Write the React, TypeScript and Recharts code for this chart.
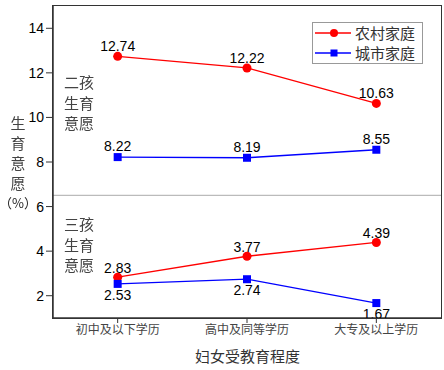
import React from 'react';
import { ComposedChart, Line, XAxis, YAxis, ReferenceLine, LabelList } from 'recharts';

const categories = ['初中及以下学历', '高中及同等学历', '大专及以上学历'];
const rural2 = [12.74, 12.22, 10.63];
const urban2 = [8.22, 8.19, 8.55];
const rural3 = [2.83, 3.77, 4.39];
const urban3 = [2.53, 2.74, 1.67];
const yTicks = [2, 4, 6, 8, 10, 12, 14];

const data = categories.map((c, i) => ({
  cat: c,
  rural2: rural2[i],
  urban2: urban2[i],
  rural3: rural3[i],
  urban3: urban3[i],
}));

const RED = '#ff0000';
const BLUE = '#0000ff';
const CJK = '"Noto Sans CJK SC", sans-serif';
const NUM = '"Liberation Sans", Arial, sans-serif';

const Square = (props: any) => {
  const { cx, cy } = props;
  if (cx == null || cy == null) return null;
  return <rect x={cx - 4} y={cy - 4} width={8} height={8} fill={BLUE} />;
};
const Circle = (props: any) => {
  const { cx, cy } = props;
  if (cx == null || cy == null) return null;
  return <circle cx={cx} cy={cy} r={4.5} fill={RED} />;
};

const labelStyle = { fontFamily: NUM, fontSize: 14, fill: '#000' };
const fmt = (v: any) => Number(v).toFixed(2);

export default function App() {
  return (
    <div style={{ position: 'fixed', left: 0, top: 0, width: 444, height: 370, background: '#fff' }}>
      <ComposedChart width={444} height={370} data={data} margin={{ top: 6, right: 3, bottom: 22, left: 0 }}>
        <XAxis
          dataKey="cat"
          scale="band"
          height={30}
          axisLine={{ stroke: '#333', strokeWidth: 1.5 }}
          tickLine={{ stroke: '#333' }}
          tickSize={5}
          tick={{ fontFamily: CJK, fontSize: 12, fill: '#444' }}
          interval={0}
        />
        <YAxis
          domain={[1, 15]}
          ticks={yTicks}
          width={53}
          axisLine={{ stroke: '#333', strokeWidth: 1.5 }}
          tickLine={{ stroke: '#333' }}
          tickSize={7}
          tick={{ fontFamily: NUM, fontSize: 14, fill: '#000' }}
          allowDataOverflow
        />
        <ReferenceLine y={6.5} stroke="#bbbbbb" strokeWidth={1.2} />
        <Line dataKey="rural2" stroke={RED} strokeWidth={1.3} dot={<Circle />} isAnimationActive={false}>
          <LabelList dataKey="rural2" position="top" offset={5} style={labelStyle} formatter={fmt} />
        </Line>
        <Line dataKey="urban2" stroke={BLUE} strokeWidth={1.3} dot={<Square />} isAnimationActive={false}>
          <LabelList dataKey="urban2" position="top" offset={6} style={labelStyle} formatter={fmt} />
        </Line>
        <Line dataKey="rural3" stroke={RED} strokeWidth={1.3} dot={<Circle />} isAnimationActive={false}>
          <LabelList dataKey="rural3" position="top" offset={4} style={labelStyle} formatter={fmt} />
        </Line>
        <Line dataKey="urban3" stroke={BLUE} strokeWidth={1.3} dot={<Square />} isAnimationActive={false}>
          <LabelList dataKey="urban3" position="bottom" offset={6} style={labelStyle} formatter={fmt} />
        </Line>
      </ComposedChart>

      {/* plot frame */}
      <div style={{ position: 'absolute', left: 52, top: 5, width: 388, height: 312, border: '1.5px solid #333', pointerEvents: 'none' }} />

      {/* x axis title */}
      <div style={{ position: 'absolute', left: 54, width: 387, top: 346, textAlign: 'center', fontFamily: CJK, fontSize: 15, color: '#333', lineHeight: '20px' }}>
        妇女受教育程度
      </div>

      {/* y axis title */}
      <div style={{ position: 'absolute', left: 0, width: 36, top: 113, textAlign: 'center', fontFamily: CJK, fontSize: 15, color: '#444', lineHeight: '20px' }}>
        <div>生</div>
        <div>育</div>
        <div>意</div>
        <div>愿</div>
        <div style={{ fontSize: 13, whiteSpace: 'nowrap', marginLeft: -2, marginRight: -2, color: '#222' }}>（%）</div>
      </div>

      {/* annotations */}
      <div style={{ position: 'absolute', left: 64, top: 72, fontFamily: CJK, fontSize: 15, color: '#444', lineHeight: '20.5px' }}>
        <div>二孩</div>
        <div>生育</div>
        <div>意愿</div>
      </div>
      <div style={{ position: 'absolute', left: 64, top: 214, fontFamily: CJK, fontSize: 15, color: '#444', lineHeight: '20.5px' }}>
        <div>三孩</div>
        <div>生育</div>
        <div>意愿</div>
      </div>

      {/* legend */}
      <div style={{ position: 'absolute', left: 312, top: 22, width: 109, height: 40, border: '1px solid #999', background: '#fff', fontFamily: CJK, fontSize: 15, color: '#333' }}>
        <div style={{ display: 'flex', alignItems: 'center', height: 20 }}>
          <svg width={42} height={20}>
            <line x1={2} y1={10} x2={38} y2={10} stroke={RED} strokeWidth={1.3} />
            <circle cx={21} cy={10} r={4} fill={RED} />
          </svg>
          <span style={{ lineHeight: '20px' }}>农村家庭</span>
        </div>
        <div style={{ display: 'flex', alignItems: 'center', height: 20 }}>
          <svg width={42} height={20}>
            <line x1={2} y1={10} x2={38} y2={10} stroke={BLUE} strokeWidth={1.3} />
            <rect x={17.5} y={6.5} width={7} height={7} fill={BLUE} />
          </svg>
          <span style={{ lineHeight: '20px' }}>城市家庭</span>
        </div>
      </div>
    </div>
  );
}
